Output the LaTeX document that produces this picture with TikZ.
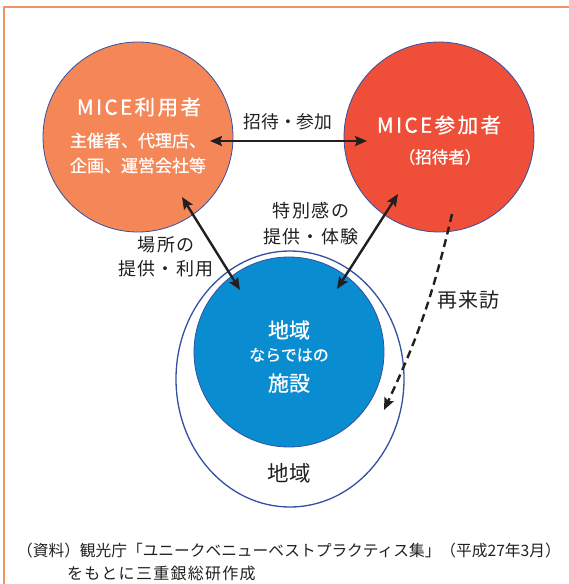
\documentclass[tikz,border=0pt]{standalone}
\usepackage{fontspec}
\newfontfamily\jp{Noto Sans CJK JP}
\newfontfamily\jpw[FakeBold=0.8]{Noto Sans CJK JP}
\newfontfamily\jpwls[FakeBold=0.8,LetterSpace=12]{Noto Sans CJK JP}
\newfontfamily\jpls[LetterSpace=8]{Noto Sans CJK JP}
\newfontfamily\jplsn[LetterSpace=5]{Noto Sans CJK JP}
\usetikzlibrary{arrows.meta,shapes.geometric}
\definecolor{frameor}{HTML}{F39366}
\definecolor{usercol}{HTML}{F58657}
\definecolor{partcol}{HTML}{EF4F38}
\definecolor{bluecol}{HTML}{0A8DD0}
\definecolor{edgeblue}{HTML}{3350A0}
\definecolor{ink}{HTML}{231F20}
\begin{document}
\begin{tikzpicture}[x=1pt,y=-1pt,
  bigcirc/.style={circle, draw=edgeblue, line width=0.8pt, minimum size=190pt, inner sep=0pt},
  wtext/.style={text=white, align=center, inner sep=0pt},
  lbl/.style={text=ink, align=center, inner sep=0pt},
  arrtip/.style={line width=2.4pt, draw=ink, {Stealth[length=12pt,width=10pt,inset=2pt]}-{Stealth[length=12pt,width=10pt,inset=2pt]}},
  dasharr/.style={line width=2.4pt, draw=ink, dash pattern=on 8pt off 5pt, -{Stealth[length=12pt,width=10pt,inset=2pt]}},
]
\useasboundingbox (0,0) rectangle (569,584);
\draw[frameor, line width=1.5pt] (4,584) -- (4,7) -- (569,7);

\node[bigcirc, fill=usercol] (user) at (138,137) {};
\node[bigcirc, fill=partcol] (part) at (439,137) {};
\node[ellipse, draw=edgeblue, line width=1.3pt, minimum width=228pt, minimum height=256pt, inner sep=0pt] (region) at (290,379) {};
\node[bigcirc, fill=bluecol] (fac) at (289,352) {};

\node[wtext, font=\jpwls\fontsize{20.5}{24}\selectfont] (usert) at (139,107) {MICE利用者};
\node[wtext, font=\jpw\fontsize{17}{25}\selectfont] (userd) at (138,153) {主催者、代理店、\\企画、運営会社等};
\node[wtext, font=\jpwls\fontsize{20.5}{24}\selectfont] (partt) at (439,125) {MICE参加者};
\node[wtext, font=\jpw\fontsize{16.5}{22}\selectfont] (partd) at (440,157) {（招待者）};

\node[wtext, font=\jpw\fontsize{21}{24}\selectfont] (fac1) at (289,330) {地域};
\node[wtext, font=\jpw\fontsize{16}{20}\selectfont] (fac2) at (289,355) {ならではの};
\node[wtext, font=\jpw\fontsize{21}{24}\selectfont] (fac3) at (289,383) {施設};

\node[text=ink, font=\jp\fontsize{21.5}{24}\selectfont] (regl) at (289,473) {地域};

\node[lbl, font=\jp\fontsize{17.8}{24}\selectfont] (inv) at (288,122) {招待・参加};
\node[lbl, font=\jpls\fontsize{18}{23.5}\selectfont] (place) at (166,257) {場所の\\提供・利用};
\node[lbl, font=\jpls\fontsize{18}{26}\selectfont] (spec) at (311,224) {特別感の\\提供・体験};
\node[lbl, font=\jplsn\fontsize{20}{24}\selectfont] (revisit) at (468,300) {再来訪};

\coordinate (hA) at (210,141);
\coordinate (hB) at (367,141);
\coordinate (lA) at (182,197);
\coordinate (lB) at (240,290);
\coordinate (rA) at (398,194);
\coordinate (rB) at (337,289);
\coordinate (dA) at (452,214);
\coordinate (dB) at (384,410);

\draw[arrtip] (hA) -- (hB);
\draw[arrtip] (lA) -- (lB);
\draw[arrtip] (rA) -- (rB);
\draw[dasharr] (dA) to[bend left=6] (dB);

\node[anchor=west, text=ink, font=\jp\fontsize{15.7}{18}\selectfont, inner sep=0pt] (src1) at (17,551) {（資料）観光庁「ユニークベニューベストプラクティス集」（平成27年3月）};
\node[anchor=west, text=ink, font=\jpls\fontsize{16}{18}\selectfont, inner sep=0pt] (src2) at (67,573) {をもとに三重銀総研作成};
\end{tikzpicture}
\end{document}
